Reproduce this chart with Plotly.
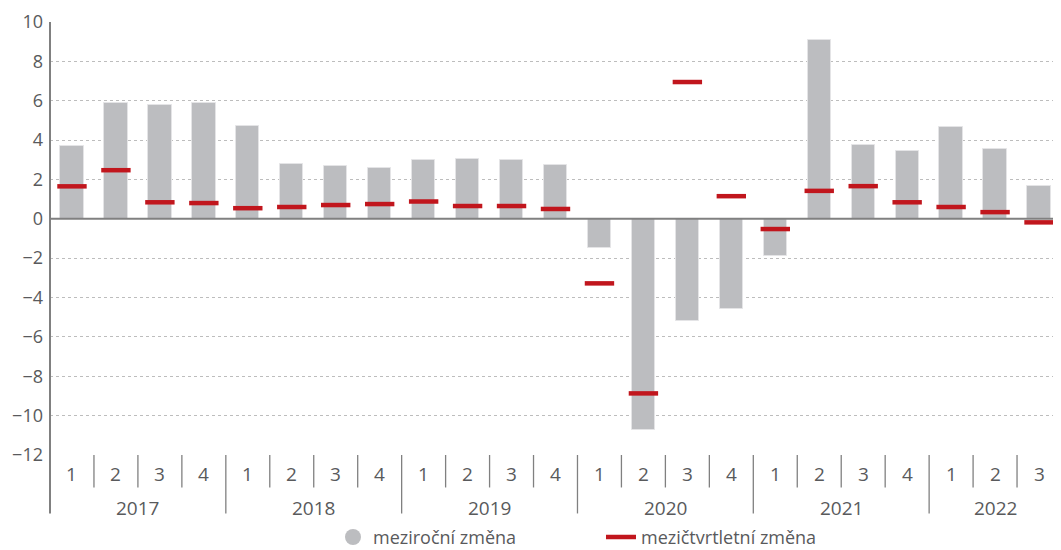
import plotly.graph_objects as go

years = ["2017", "2018", "2019", "2020", "2021", "2022"]
quarters = ["1", "2", "3", "4", "1", "2", "3", "4", "1", "2", "3", "4",
            "1", "2", "3", "4", "1", "2", "3", "4", "1", "2", "3"]
quarter_year = ["2017"] * 4 + ["2018"] * 4 + ["2019"] * 4 + ["2020"] * 4 + ["2021"] * 4 + ["2022"] * 3

yoy = [3.7, 5.9, 5.8, 5.9, 4.7, 2.8, 2.7, 2.6, 3.0, 3.05, 3.0, 2.75,
       -1.5, -10.75, -5.2, -4.6, -1.9, 9.1, 3.75, 3.45, 4.65, 3.55, 1.65]
qoq = [1.65, 2.47, 0.84, 0.8, 0.54, 0.6, 0.7, 0.75, 0.88, 0.65, 0.65, 0.5,
       -3.28, -8.87, 6.95, 1.15, -0.52, 1.42, 1.66, 0.84, 0.6, 0.34, -0.18]

y_ticks = [10, 8, 6, 4, 2, 0, -2, -4, -6, -8, -10, -12]

GREY_BAR = "#bcbdc0"
RED = "#c1161d"
TEXT = "#595a5c"
AXIS = "#808080"
FONT = "Open Sans"

x = list(range(len(quarters)))

fig = go.Figure()
fig.add_trace(go.Bar(
    x=x, y=yoy, width=0.53,
    marker=dict(color=GREY_BAR, line=dict(color="#e4e4e6", width=1)),
    showlegend=False, hoverinfo="skip",
))
fig.add_trace(go.Scatter(
    x=x, y=qoq, mode="markers",
    marker=dict(symbol="line-ew-open", size=21, color=RED, line=dict(color=RED, width=4.5)),
    showlegend=False, hoverinfo="skip",
))
# legend entries
fig.add_trace(go.Scatter(
    x=[None], y=[None], mode="markers", name="meziroční změna",
    marker=dict(symbol="circle", size=20, color=GREY_BAR),
))
fig.add_trace(go.Scatter(
    x=[None], y=[None], mode="lines", name="mezičtvrtletní změna",
    line=dict(color=RED, width=4.5),
))

shapes = []
shapes.append(dict(type="line", xref="paper", yref="y", x0=0, x1=1, y0=0, y1=0,
                   line=dict(color=AXIS, width=2), layer="above"))
shapes.append(dict(type="line", xref="paper", yref="paper", x0=0, x1=0, y0=1, y1=-0.135,
                   line=dict(color=AXIS, width=2), layer="above"))
for i in range(len(quarters) - 1):
    boundary = quarter_year[i] != quarter_year[i + 1]
    shapes.append(dict(type="line", xref="x", yref="paper", x0=i + 0.5, x1=i + 0.5,
                       y0=0, y1=-0.135 if boundary else -0.075,
                       line=dict(color=AXIS, width=1.3)))

annotations = []
for i, q in enumerate(quarters):
    annotations.append(dict(x=i, y=-0.043, xref="x", yref="paper", text=q, showarrow=False,
                            font=dict(family=FONT, size=19, color=TEXT), yanchor="middle"))
for yr in years:
    idx = [i for i, v in enumerate(quarter_year) if v == yr]
    annotations.append(dict(x=(idx[0] + idx[-1]) / 2, y=-0.122, xref="x", yref="paper", text=yr,
                            showarrow=False, font=dict(family=FONT, size=19, color=TEXT),
                            yanchor="middle"))

fig.update_layout(
    width=1053, height=542,
    margin=dict(l=42, r=0, t=14, b=95.3, autoexpand=False),
    plot_bgcolor="white", paper_bgcolor="white",
    font=dict(family=FONT, size=18, color=TEXT),
    bargap=0,
    shapes=shapes,
    annotations=annotations,
    legend=dict(orientation="h", x=0.545, xanchor="center", y=-0.19, yanchor="middle",
                font=dict(family=FONT, size=18, color=TEXT), entrywidth=223,
                itemsizing="trace"),
)
fig.update_xaxes(range=[-0.5, len(quarters) - 0.5], showticklabels=False, showgrid=False,
                 zeroline=False, showline=False, ticks="", automargin=False)
fig.update_yaxes(range=[-12, 10], tickvals=y_ticks,
                 ticktext=[("−" + str(-v)) if v < 0 else str(v) for v in y_ticks],
                 showgrid=True, gridcolor="#bdbdbd", griddash="3px,3px", gridwidth=1.2,
                 zeroline=False, showline=False, ticks="", ticklabelstandoff=6,
                 automargin=False,
                 tickfont=dict(family=FONT, size=18, color=TEXT))

fig.write_html("out.html")
